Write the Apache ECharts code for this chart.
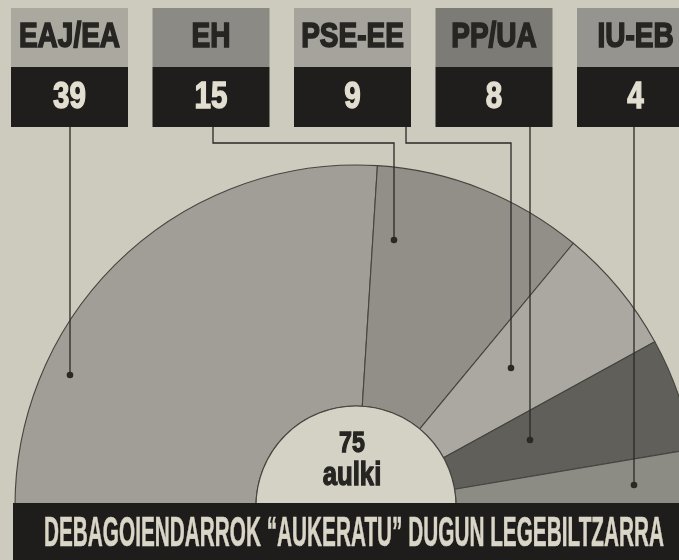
<!DOCTYPE html>
<html>
<head>
<meta charset="utf-8">
<script src="https://cdn.jsdelivr.net/npm/echarts@6/dist/echarts.min.js"></script>
<style>
html, body { margin: 0; padding: 0; background: #cdcabe; }
#main { width: 679px; height: 560px; }
</style>
</head>
<body>
<div id="main"></div>
<script>
const parties = ['EAJ/EA', 'EH', 'PSE-EE', 'PP/UA', 'IU-EB'];
const seats = [39, 15, 9, 8, 4];
const sliceColors = ['#a09e96', '#918f88', '#aaa8a0', '#605f5a', '#8c8b84'];
const boxColors = ['#aaa89f', '#8c8a84', '#a5a39c', '#7d7b76', '#96948e'];
const seatWord = 'aulki';
const title = 'DEBAGOIENDARROK \u201CAUKERATU\u201D DUGUN LEGEBILTZARRA';

const total = seats.reduce((a, b) => a + b, 0);

// leader lines: box bottom -> dot inside the slice
const leaders = [
    [[70, 127], [70, 375]],
    [[213, 127], [213, 143], [394, 143], [394, 240]],
    [[406, 127], [406, 143], [511, 143], [511, 368]],
    [[530, 127], [530, 440]],
    [[634, 127], [634, 485]]
];

const FONT = '"Liberation Sans", Arial, sans-serif';
const ink = '#262522';
const black = '#1f1e1c';
const paperWhite = '#e2ded0';

// squeeze text horizontally (the paper uses a condensed face)
const measureCtx = document.createElement('canvas').getContext('2d');
function squeeze(text, size, width) {
    measureCtx.font = 'bold ' + size + 'px ' + FONT;
    return width / measureCtx.measureText(text).width;
}

// heavy condensed text helper (stroke in the same colour thickens the strokes)
function heavyText(txt, x, y, size, sx, color, weight, z) {
    return {
        type: 'text', z: z || 11, x: x, y: y, scaleX: sx,
        style: {
            text: txt, fill: color, stroke: color, lineWidth: weight,
            font: 'bold ' + size + 'px ' + FONT, align: 'center', verticalAlign: 'middle'
        }
    };
}

let graphics = [];
parties.forEach((name, i) => {
    let x = 11 + i * 141.5;
    graphics.push({ type: 'rect', z: 10, shape: { x: x, y: 8, width: 117, height: 59 }, style: { fill: boxColors[i] } });
    graphics.push({ type: 'rect', z: 10, shape: { x: x, y: 67, width: 117, height: 60 }, style: { fill: black } });
    graphics.push(heavyText(name, x + 58.5, 37, 35, 0.8, ink, 1.6));
    graphics.push(heavyText(String(seats[i]), x + 58.5, 98, 37, 0.8, paperWhite, 1.4));
    let pts = leaders[i];
    graphics.push({ type: 'polyline', z: 9, shape: { points: pts }, style: { stroke: '#2a2926', lineWidth: 1.3, fill: null } });
    let end = pts[pts.length - 1];
    graphics.push({ type: 'circle', z: 9, shape: { cx: end[0], cy: end[1], r: 3.3 }, style: { fill: '#2a2926' } });
});

// centre text
graphics.push(heavyText(String(total), 352, 444, 29, 0.8, ink, 1.3));
graphics.push(heavyText(seatWord, 352, 476, 33, 0.78, ink, 1.3));

// bottom banner
graphics.push({ type: 'rect', z: 20, shape: { x: 13, y: 503, width: 680, height: 60 }, style: { fill: '#1e1d1b' } });
graphics.push(heavyText(title, 354, 534, 42, squeeze(title, 42, 620), '#d9d5c7', 0.6, 21));

let myChart = echarts.init(document.getElementById('main'));
let options = {
    backgroundColor: '#cdcabe',
    animation: false,
    series: [
        {
            type: 'pie',
            center: [356, 506],
            radius: [100, 341],
            startAngle: 180,
            endAngle: 0,
            clockwise: true,
            silent: true,
            label: { show: false },
            labelLine: { show: false },
            itemStyle: { borderColor: '#45443f', borderWidth: 1.1 },
            data: parties.map((p, i) => ({ name: p, value: seats[i], itemStyle: { color: sliceColors[i] } }))
        },
        {
            type: 'pie',
            center: [356, 506],
            radius: [0, 100],
            startAngle: 180,
            endAngle: 0,
            silent: true,
            label: { show: false },
            labelLine: { show: false },
            itemStyle: { color: '#d4d1c5', borderColor: '#45443f', borderWidth: 1.1 },
            data: [{ name: seatWord, value: total }]
        }
    ],
    graphic: graphics
};
options && myChart.setOption(options);
</script>
</body>
</html>
